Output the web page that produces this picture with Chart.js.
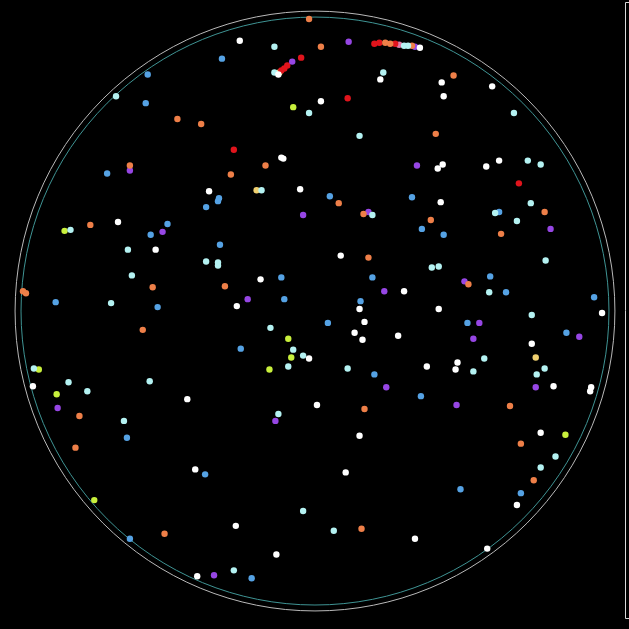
<!DOCTYPE html>
<html>
<head>
<meta charset="utf-8">
<script src="https://cdn.jsdelivr.net/npm/chart.js@4"></script>
<style>
  html, body { margin: 0; padding: 0; background: #000; overflow: hidden; }
  #wrap { width: 629px; height: 629px; position: relative; }
</style>
</head>
<body>
<div id="wrap"><canvas id="c" width="629" height="629"></canvas></div>
<script>
// ---- data: star positions in chart units (x right, y down), grouped by colour class ----
const categories = ['white', 'paleCyan', 'blue', 'orange', 'purple', 'red', 'pink', 'yellowGreen', 'yellow'];

const whiteX = [239,421,278,381,443,445,494,321,281,283,208,300,116,154,439,444,488,501,442,341,260,405,236,360,440,605,30,186,194,196,365,355,363,399,309,317,360,346,235,416,276,534,428,459,457,556,594,593,543,519,489];
const whiteY = [38,45,72,77,80,94,84,99,156,157,190,188,221,249,167,163,165,159,201,255,279,291,306,309,309,313,387,400,471,579,322,333,340,336,359,406,437,474,528,541,557,344,367,363,370,387,388,392,434,507,551];

const paleCyanX = [114,68,126,205,130,109,274,405,409,274,384,309,360,261,373,217,217,516,530,543,497,533,519,548,433,440,491,534,31,66,85,122,148,270,293,303,288,348,278,303,334,233,486,475,547,539,558,543];
const paleCyanY = [94,229,249,261,275,303,44,43,43,70,70,111,134,189,214,262,265,111,159,163,212,202,220,260,267,266,292,315,369,383,392,422,382,328,350,356,367,369,415,513,533,573,359,372,369,375,458,469];

const blueX = [146,144,105,205,166,149,53,156,221,218,217,330,413,219,281,373,284,361,501,423,445,492,508,597,125,204,128,328,240,375,251,469,569,422,462,523];
const blueY = [72,101,172,206,223,234,302,307,56,197,200,195,196,244,277,277,299,301,211,228,234,276,292,297,439,476,541,323,349,375,581,323,333,397,491,495];

const orangeX = [176,200,128,88,151,20,23,309,321,386,391,413,265,230,339,364,369,224,455,437,547,432,503,470,141,77,73,163,365,362,512,523,536];
const orangeY = [117,122,164,224,287,291,293,16,44,40,41,43,164,173,202,213,257,286,73,132,211,219,233,284,330,417,449,536,410,531,407,445,482];

const purpleX = [128,161,349,416,292,418,303,369,247,385,553,466,55,387,275,213,481,475,582,538,458];
const purpleY = [169,231,39,44,59,164,214,211,299,291,228,281,409,388,422,578,323,339,337,388,406];

const redX = [375,380,396,301,287,284,281,348,233,521];
const redY = [41,40,41,55,63,66,68,96,148,182];

const pinkX = [400];
const pinkY = [42];

const yellowGreenX = [62,293,36,54,92,288,291,269,568];
const yellowGreenY = [230,105,370,395,502,339,358,370,436];

const yellowX = [256,538,279];
const yellowY = [189,358,70];

// ---- chart frame (axis extents, horizon circle) ----
const axisExtent = [0, 629];
const horizonCenter = [315, 311];
const horizonRadii = [303, 297];

const palette = {
  white: '#ffffff',
  paleCyan: '#b4f2f2',
  blue: '#55a2e4',
  orange: '#ee7f48',
  purple: '#9646e4',
  red: '#e0141c',
  pink: '#e07aa8',
  yellowGreen: '#c8f03c',
  yellow: '#f0d070'
};

const seriesXY = {
  white: [whiteX, whiteY],
  paleCyan: [paleCyanX, paleCyanY],
  blue: [blueX, blueY],
  orange: [orangeX, orangeY],
  purple: [purpleX, purpleY],
  red: [redX, redY],
  pink: [pinkX, pinkY],
  yellowGreen: [yellowGreenX, yellowGreenY],
  yellow: [yellowX, yellowY]
};

const datasets = categories.map(cat => {
  const [xs, ys] = seriesXY[cat];
  return {
    label: cat,
    data: xs.map((x, i) => ({ x: x, y: ys[i] })),
    backgroundColor: palette[cat],
    borderWidth: 0,
    pointRadius: 3.2,
    pointHoverRadius: 3.2
  };
});

const horizonPlugin = {
  id: 'horizon',
  beforeDatasetsDraw(chart) {
    const { ctx, scales } = chart;
    const cx = scales.x.getPixelForValue(horizonCenter[0]);
    const cy = scales.y.getPixelForValue(horizonCenter[1]);
    const colors = ['#b9b9b9', '#3f9494'];
    ctx.save();
    horizonRadii.forEach((r, i) => {
      const rp = scales.x.getPixelForValue(horizonCenter[0] + r) - cx;
      ctx.beginPath();
      ctx.strokeStyle = colors[i];
      ctx.lineWidth = 1;
      ctx.arc(cx, cy, rp, 0, Math.PI * 2);
      ctx.stroke();
    });
    // right-hand frame of the (cropped) side panel
    const w = chart.width, h = chart.height;
    ctx.strokeStyle = '#d8d8d8';
    ctx.lineWidth = 1;
    ctx.beginPath();
    ctx.moveTo(w + 2, 2.5);
    ctx.lineTo(w - 3.5, 2.5);
    ctx.lineTo(w - 3.5, h - 10.5);
    ctx.lineTo(w + 2, h - 10.5);
    ctx.stroke();
    ctx.restore();
  }
};

const bgPlugin = {
  id: 'bg',
  beforeDraw(chart) {
    const ctx = chart.ctx;
    ctx.save();
    ctx.fillStyle = '#000000';
    ctx.fillRect(0, 0, chart.width, chart.height);
    ctx.restore();
  }
};

new Chart(document.getElementById('c'), {
  type: 'scatter',
  data: { datasets },
  options: {
    responsive: false,
    animation: false,
    layout: { padding: 0 },
    plugins: { legend: { display: false }, tooltip: { enabled: false } },
    scales: {
      x: { type: 'linear', min: axisExtent[0], max: axisExtent[1], display: false },
      y: { type: 'linear', min: axisExtent[0], max: axisExtent[1], reverse: true, display: false }
    }
  },
  plugins: [bgPlugin, horizonPlugin]
});
</script>
</body>
</html>
